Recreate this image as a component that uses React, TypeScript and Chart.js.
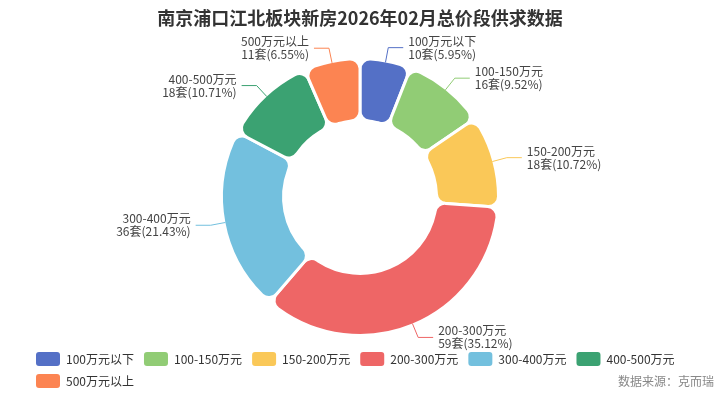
import { useEffect, useRef } from 'react';
import { Chart, registerables } from 'chart.js';

Chart.register(...registerables);

const chartTitle = '南京浦口江北板块新房2026年02月总价段供求数据';
const sourceText = '数据来源：克而瑞';
const categories = ['100万元以下', '100-150万元', '150-200万元', '200-300万元', '300-400万元', '400-500万元', '500万元以上'];
const counts = [10, 16, 18, 59, 36, 18, 11];
const percents = ['5.95%', '9.52%', '10.72%', '35.12%', '21.43%', '10.71%', '6.55%'];
const colors = ['#5470c6', '#91cc75', '#fac858', '#ee6666', '#73c0de', '#3ba272', '#fc8452'];

const FONT = "'Noto Sans CJK SC', 'Noto Sans', sans-serif";
const BORDER = 3;

const textPlugin = {
  id: 'textPlugin',
  afterDraw(chart: any) {
    const ctx: CanvasRenderingContext2D = chart.ctx;
    ctx.save();
    // title
    ctx.fillStyle = '#333333';
    ctx.font = `bold 18px ${FONT}`;
    ctx.textAlign = 'center';
    ctx.textBaseline = 'middle';
    ctx.fillText(chartTitle, chart.width / 2, 18);

    // outside labels
    const meta = chart.getDatasetMeta(0);
    ctx.font = `12px ${FONT}`;
    meta.data.forEach((arc: any, i: number) => {
      const p = arc.getProps(['x', 'y', 'startAngle', 'endAngle', 'outerRadius'], true);
      const mid = (p.startAngle + p.endAngle) / 2;
      const r0 = p.outerRadius - BORDER / 2;
      const r1 = r0 + 15;
      const x0 = p.x + Math.cos(mid) * r0;
      const y0 = p.y + Math.sin(mid) * r0;
      const x1 = p.x + Math.cos(mid) * r1;
      const y1 = p.y + Math.sin(mid) * r1;
      const right = Math.cos(mid) >= 0;
      const x2 = x1 + (right ? 15 : -15);
      ctx.strokeStyle = colors[i];
      ctx.lineWidth = 1;
      ctx.beginPath();
      ctx.moveTo(x0, y0);
      ctx.lineTo(x1, y1);
      ctx.lineTo(x2, y1);
      ctx.stroke();
      ctx.fillStyle = '#444444';
      ctx.textAlign = right ? 'left' : 'right';
      ctx.textBaseline = 'middle';
      const tx = x2 + (right ? 5 : -5);
      ctx.fillText(categories[i], tx, y1 - 6.5);
      ctx.fillText(`${counts[i]}套(${percents[i]})`, tx, y1 + 6.5);
    });

    // legend
    ctx.font = `12px ${FONT}`;
    ctx.textAlign = 'left';
    ctx.textBaseline = 'middle';
    let x = 36;
    let y = 359;
    categories.forEach((c, i) => {
      const w = 24 + 6 + ctx.measureText(c).width;
      if (x > 36 && x + w > 700) {
        x = 36;
        y += 22;
      }
      ctx.fillStyle = colors[i];
      ctx.beginPath();
      (ctx as any).roundRect(x, y - 7, 24, 14, 3);
      ctx.fill();
      ctx.fillStyle = '#333333';
      ctx.fillText(c, x + 30, y);
      x += w + 10;
    });

    // source
    ctx.fillStyle = '#888888';
    ctx.textAlign = 'right';
    ctx.fillText(sourceText, 714, 381);
    ctx.restore();
  },
};

export default function App() {
  const ref = useRef<HTMLCanvasElement>(null);
  useEffect(() => {
    if (!ref.current) return;
    const chart = new Chart(ref.current, {
      type: 'doughnut',
      data: {
        labels: categories,
        datasets: [
          {
            data: counts,
            backgroundColor: colors,
            borderColor: '#ffffff',
            borderWidth: BORDER,
            borderRadius: 10,
          },
        ],
      },
      options: {
        responsive: false,
        animation: false,
        devicePixelRatio: 1,
        radius: 138.5,
        cutout: '55.2%',
        layout: { padding: { top: 56, bottom: 58, left: 0, right: 0 } },
        plugins: {
          legend: { display: false },
          title: { display: false },
          tooltip: { enabled: false },
        },
      } as any,
      plugins: [textPlugin],
    });
    return () => chart.destroy();
  }, []);
  return (
    <div style={{ position: 'fixed', left: 0, top: 0, width: 720, height: 396, background: '#fff' }}>
      <canvas ref={ref} width={720} height={396} />
    </div>
  );
}
